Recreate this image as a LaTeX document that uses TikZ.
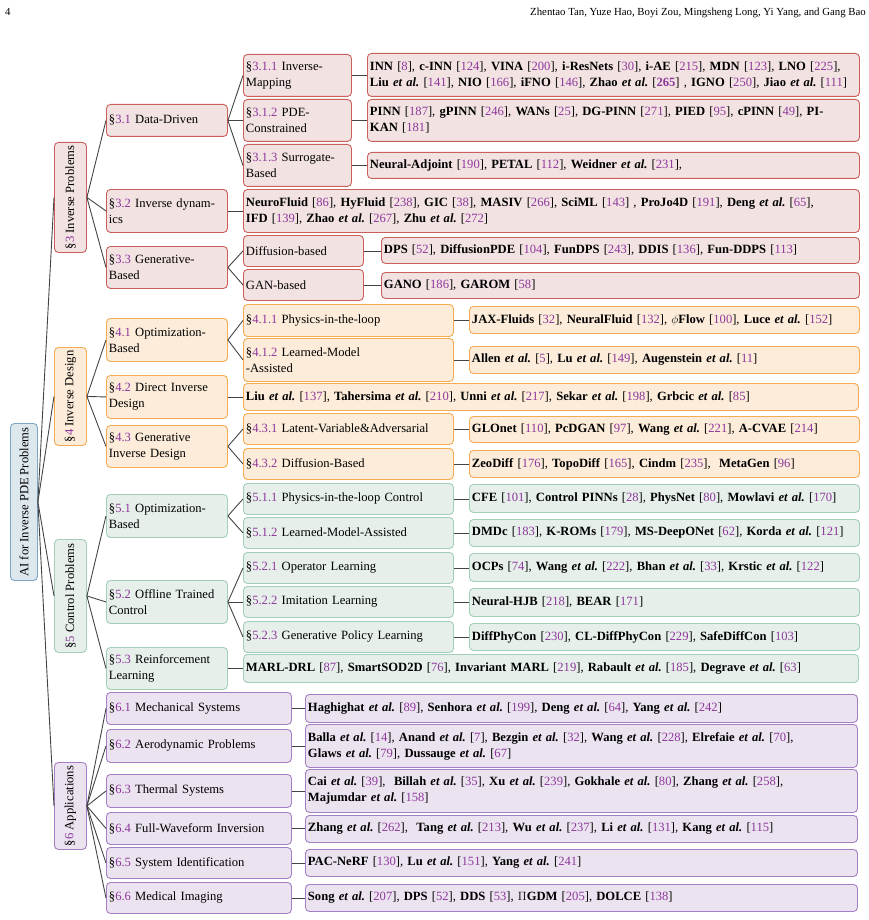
\documentclass[tikz,border=0pt]{standalone}
\usepackage{fontspec}
\usepackage{graphicx}
\setmainfont{Liberation Serif}
\frenchspacing
\definecolor{cit}{HTML}{8E389C}
\definecolor{redF}{HTML}{F3E2E2}
\definecolor{redB}{HTML}{C9605C}
\definecolor{orgF}{HTML}{FCECD9}
\definecolor{orgB}{HTML}{F4AC52}
\definecolor{grnF}{HTML}{E6EFEA}
\definecolor{grnB}{HTML}{A3CFB8}
\definecolor{purF}{HTML}{EBE3EF}
\definecolor{purB}{HTML}{A57FC4}
\definecolor{bluF}{HTML}{DDE7EE}
\definecolor{bluB}{HTML}{7EA6C4}
\definecolor{lineC}{HTML}{444444}
\newcommand\cc[1]{[\textcolor{cit}{#1}]}
\newcommand\ea[1]{\textbf{#1 \textit{et al.}}}
\newcommand\sct[1]{§\textcolor{cit}{#1}}
\newcommand\bx[7]{%
  \pgfmathsetmacro\bw{#5-#3}\pgfmathsetmacro\bh{#6-#4}\pgfmathsetmacro\tw{#5-#3-5}%
  \node[#2, anchor=north west, minimum width=\bw pt, minimum height=\bh pt, text width=\tw pt] (#1) at (#3pt,-#4pt) {#7};}
\newcommand\vbx[7]{%
  \pgfmathsetmacro\bw{#5-#3}\pgfmathsetmacro\bh{#6-#4}%
  \node[#2, anchor=north west, minimum width=\bw pt, minimum height=\bh pt, align=center, inner sep=0pt] (#1) at (#3pt,-#4pt) {\rotatebox{90}{#7}};}
\tikzset{
  base/.style={rounded corners=4pt, line width=0.9pt, inner xsep=2.5pt, inner ysep=1pt, align=left, font=\fontsize{12.6}{16}\selectfont\frenchspacing},
  red/.style={base, draw=redB, fill=redF},
  org/.style={base, draw=orgB, fill=orgF},
  grn/.style={base, draw=grnB, fill=grnF},
  pur/.style={base, draw=purB, fill=purF},
  blu/.style={base, draw=bluB, fill=bluF},
  conn/.style={draw=lineC, line width=0.9pt},
  hdr/.style={font=\fontsize{10.8}{12}\selectfont, inner sep=0pt}
}
\begin{document}
\begin{tikzpicture}
\useasboundingbox (0pt,0pt) rectangle (869pt,-920pt);
\node[hdr, anchor=base west] (pg) at (5pt,-16pt) {4};
\node[hdr, anchor=base east] (hd) at (866pt,-16pt) {Zhentao Tan, Yuze Hao, Boyi Zou, Mingsheng Long, Yi Yang, and Gang Bao};
% root and level 1
\vbx{root}{blu}{10}{423}{37}{580}{AI for Inverse PDE Problems}
\vbx{s3}{red}{54}{142}{86}{252}{\sct{3} Inverse Problems}
\vbx{s4}{org}{54}{347}{86}{445}{\sct{4} Inverse Design}
\vbx{s5}{grn}{54}{539}{86}{652}{\sct{5} Control Problems}
\vbx{s6}{pur}{54}{762}{86}{849}{\sct{6} Applications}
% section 3
\bx{s31}{red}{106}{104}{227}{136}{\sct{3.1} Data-Driven}
\bx{s32}{red}{106}{189}{227}{232}{\sct{3.2} Inverse dynam-\\ics}
\bx{s33}{red}{106}{246}{227}{288}{\sct{3.3} Generative-\\Based}
\bx{s311}{red}{243}{54}{351}{96}{\sct{3.1.1} Inverse-\\Mapping}
\bx{s312}{red}{243}{99}{351}{141}{\sct{3.1.2} PDE-\\Constrained}
\bx{s313}{red}{243}{144}{351}{186}{\sct{3.1.3} Surrogate-\\Based}
\bx{l311}{red}{367}{53}{859}{96}{\textbf{INN} \cc{8}, \textbf{c-INN} \cc{124}, \textbf{VINA} \cc{200}, \textbf{i-ResNets} \cc{30}, \textbf{i-AE} \cc{215}, \textbf{MDN} \cc{123}, \textbf{LNO} \cc{225},\\\ea{Liu} \cc{141}, \textbf{NIO} \cc{166}, \textbf{iFNO} \cc{146}, \ea{Zhao} [\textbf{\textcolor{cit}{265}}] , \textbf{IGNO} \cc{250}, \ea{Jiao} \cc{111}}
\bx{l312}{red}{367}{99}{859}{141}{\textbf{PINN} \cc{187}, \textbf{gPINN} \cc{246}, \textbf{WANs} \cc{25}, \textbf{DG-PINN} \cc{271}, \textbf{PIED} \cc{95}, \textbf{cPINN} \cc{49}, \textbf{PI-}\\\textbf{KAN} \cc{181}}
\bx{l313}{red}{367}{152}{859}{178}{\textbf{Neural-Adjoint} \cc{190}, \textbf{PETAL} \cc{112}, \ea{Weidner} \cc{231},}
\bx{l32}{red}{243}{189}{859}{232}{\textbf{NeuroFluid} \cc{86}, \textbf{HyFluid} \cc{238}, \textbf{GIC} \cc{38}, \textbf{MASIV} \cc{266}, \textbf{SciML} \cc{143} , \textbf{ProJo4D} \cc{191}, \ea{Deng} \cc{65},\\\textbf{IFD} \cc{139}, \ea{Zhao} \cc{267}, \ea{Zhu} \cc{272}}
\bx{s33a}{red}{243}{235}{363}{266}{Diffusion-based}
\bx{s33b}{red}{243}{269}{363}{300}{GAN-based}
\bx{l33a}{red}{381}{237}{859}{263}{\textbf{DPS} \cc{52}, \textbf{DiffusionPDE} \cc{104}, \textbf{FunDPS} \cc{243}, \textbf{DDIS} \cc{136}, \textbf{Fun-DDPS} \cc{113}}
\bx{l33b}{red}{381}{272}{859}{298}{\textbf{GANO} \cc{186}, \textbf{GAROM} \cc{58}}
% section 4
\bx{s41}{org}{106}{318}{227}{361}{\sct{4.1} Optimization-\\Based}
\bx{s42}{org}{106}{375}{227}{418}{\sct{4.2} Direct Inverse\\Design}
\bx{s43}{org}{106}{425}{227}{467}{\sct{4.3} Generative\\Inverse Design}
\bx{s411}{org}{243}{304}{453}{336}{\sct{4.1.1} Physics-in-the-loop}
\bx{s412}{org}{243}{338}{453}{381}{\sct{4.1.2} Learned-Model\\-Assisted}
\bx{l411}{org}{469}{306}{859}{333}{\textbf{JAX-Fluids} \cc{32}, \textbf{NeuralFluid} \cc{132}, $\phi$\textbf{Flow} \cc{100}, \ea{Luce} \cc{152}}
\bx{l412}{org}{469}{346}{859}{373}{\ea{Allen} \cc{5}, \ea{Lu} \cc{149}, \ea{Augenstein} \cc{11}}
\bx{l42}{org}{243}{383}{858}{410}{\ea{Liu} \cc{137}, \ea{Tahersima} \cc{210}, \ea{Unni} \cc{217}, \ea{Sekar} \cc{198}, \ea{Grbcic} \cc{85}}
\bx{s431}{org}{243}{413}{453}{444}{\sct{4.3.1} Latent-Variable\&Adversarial}
\bx{s432}{org}{243}{448}{453}{479}{\sct{4.3.2} Diffusion-Based}
\bx{l431}{org}{469}{416}{859}{442}{\textbf{GLOnet} \cc{110}, \textbf{PcDGAN} \cc{97}, \ea{Wang} \cc{221}, \textbf{A-CVAE} \cc{214}}
\bx{l432}{org}{469}{450}{859}{477}{\textbf{ZeoDiff} \cc{176}, \textbf{TopoDiff} \cc{165}, \textbf{Cindm} \cc{235}, \ \textbf{MetaGen} \cc{96}}
% section 5
\bx{s51}{grn}{106}{494}{227}{537}{\sct{5.1} Optimization-\\Based}
\bx{s52}{grn}{106}{580}{227}{623}{\sct{5.2} Offline Trained\\Control}
\bx{s53}{grn}{106}{647}{227}{689}{\sct{5.3} Reinforcement\\Learning}
\bx{s511}{grn}{243}{483}{453}{514}{\sct{5.1.1} Physics-in-the-loop Control}
\bx{s512}{grn}{243}{517}{453}{548}{\sct{5.1.2} Learned-Model-Assisted}
\bx{s521}{grn}{243}{552}{453}{583}{\sct{5.2.1} Operator Learning}
\bx{s522}{grn}{243}{586}{453}{617}{\sct{5.2.2} Imitation Learning}
\bx{s523}{grn}{243}{621}{453}{652}{\sct{5.2.3} Generative Policy Learning}
\bx{l511}{grn}{469}{484}{859}{512}{\textbf{CFE} \cc{101}, \textbf{Control PINNs} \cc{28}, \textbf{PhysNet} \cc{80}, \ea{Mowlavi} \cc{170}}
\bx{l512}{grn}{469}{519}{859}{546}{\textbf{DMDc} \cc{183}, \textbf{K-ROMs} \cc{179}, \textbf{MS-DeepONet} \cc{62}, \ea{Korda} \cc{121}}
\bx{l521}{grn}{469}{553}{859}{581}{\textbf{OCPs} \cc{74}, \ea{Wang} \cc{222}, \ea{Bhan} \cc{33}, \ea{Krstic} \cc{122}}
\bx{l522}{grn}{469}{588}{859}{616}{\textbf{Neural-HJB} \cc{218}, \textbf{BEAR} \cc{171}}
\bx{l523}{grn}{469}{623}{859}{650}{\textbf{DiffPhyCon} \cc{230}, \textbf{CL-DiffPhyCon} \cc{229}, \textbf{SafeDiffCon} \cc{103}}
\bx{l53}{grn}{243}{654}{858}{682}{\textbf{MARL-DRL} \cc{87}, \textbf{SmartSOD2D} \cc{76}, \textbf{Invariant MARL} \cc{219}, \ea{Rabault} \cc{185}, \ea{Degrave} \cc{63}}
% section 6
\bx{s61}{pur}{106}{692}{291}{724}{\sct{6.1} Mechanical Systems}
\bx{s62}{pur}{106}{729}{291}{762}{\sct{6.2} Aerodynamic Problems}
\bx{s63}{pur}{106}{774}{291}{807}{\sct{6.3} Thermal Systems}
\bx{s64}{pur}{106}{812}{291}{844}{\sct{6.4} Full-Waveform Inversion}
\bx{s65}{pur}{106}{847}{291}{878}{\sct{6.5} System Identification}
\bx{s66}{pur}{106}{882}{291}{913}{\sct{6.6} Medical Imaging}
\bx{l61}{pur}{305}{694}{857}{722}{\ea{Haghighat} \cc{89}, \ea{Senhora} \cc{199}, \ea{Deng} \cc{64}, \ea{Yang} \cc{242}}
\bx{l62}{pur}{305}{724}{857}{767}{\ea{Balla} \cc{14}, \ea{Anand} \cc{7}, \ea{Bezgin} \cc{32}, \ea{Wang} \cc{228}, \ea{Elrefaie} \cc{70},\\\ea{Glaws} \cc{79}, \ea{Dussauge} \cc{67}}
\bx{l63}{pur}{305}{769}{857}{812}{\ea{Cai} \cc{39}, \ \ea{Billah} \cc{35}, \ea{Xu} \cc{239}, \ea{Gokhale} \cc{80}, \ea{Zhang} \cc{258},\\\ea{Majumdar} \cc{158}}
\bx{l64}{pur}{305}{815}{857}{842}{\ea{Zhang} \cc{262}, \ \ea{Tang} \cc{213}, \ea{Wu} \cc{237}, \ea{Li} \cc{131}, \ea{Kang} \cc{115}}
\bx{l65}{pur}{305}{849}{857}{876}{\textbf{PAC-NeRF} \cc{130}, \ea{Lu} \cc{151}, \ea{Yang} \cc{241}}
\bx{l66}{pur}{305}{884}{857}{911}{\ea{Song} \cc{207}, \textbf{DPS} \cc{52}, \textbf{DDS} \cc{53}, $\Pi$\textbf{GDM} \cc{205}, \textbf{DOLCE} \cc{138}}
% connectors
\foreach \t in {s3,s4,s5,s6} \draw[conn] (root.east) -- (\t.west);
\foreach \t in {s31,s32,s33} \draw[conn] (s3.east) -- (\t.west);
\foreach \t in {s41,s42,s43} \draw[conn] (s4.east) -- (\t.west);
\foreach \t in {s51,s52,s53} \draw[conn] (s5.east) -- (\t.west);
\foreach \t in {s61,s62,s63,s64,s65,s66} \draw[conn] (s6.east) -- (\t.west);
\foreach \t in {s311,s312,s313} \draw[conn] (s31.east) -- (\t.west);
\foreach \t in {s33a,s33b} \draw[conn] (s33.east) -- (\t.west);
\foreach \t in {s411,s412} \draw[conn] (s41.east) -- (\t.west);
\foreach \t in {s431,s432} \draw[conn] (s43.east) -- (\t.west);
\foreach \t in {s511,s512} \draw[conn] (s51.east) -- (\t.west);
\foreach \t in {s521,s522,s523} \draw[conn] (s52.east) -- (\t.west);
\foreach \a/\b in {s311/l311,s312/l312,s313/l313,s32/l32,s33a/l33a,s33b/l33b,s411/l411,s412/l412,s42/l42,s431/l431,s432/l432,s511/l511,s512/l512,s521/l521,s522/l522,s523/l523,s53/l53,s61/l61,s62/l62,s63/l63,s64/l64,s65/l65,s66/l66}
  \draw[conn] (\a.east) -- (\a.east -| \b.west);
\end{tikzpicture}
\end{document}
